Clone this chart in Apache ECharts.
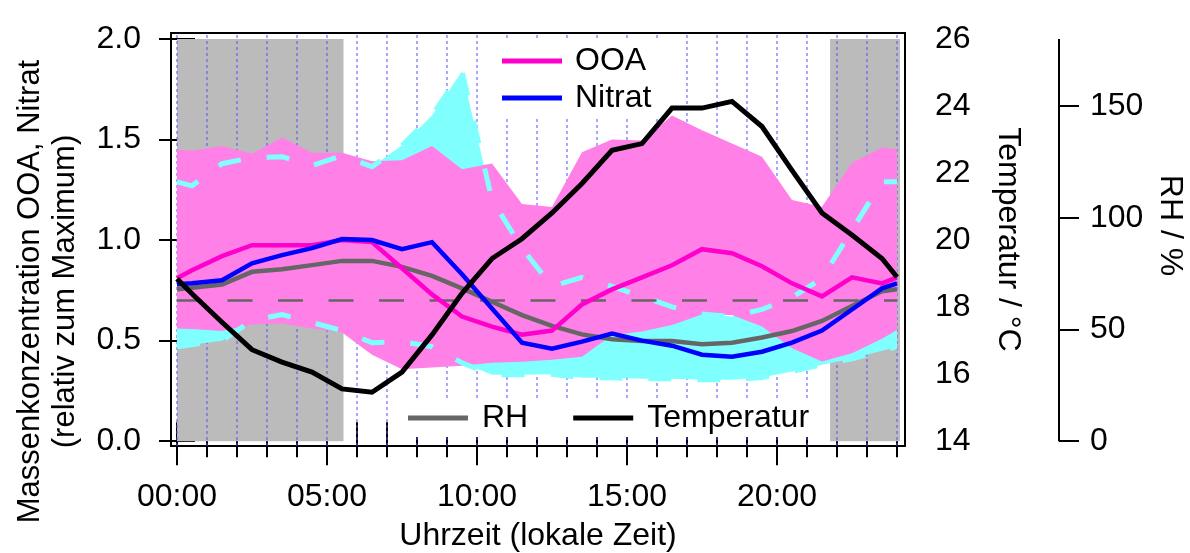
<!DOCTYPE html>
<html>
<head>
<meta charset="utf-8">
<script src="https://cdn.jsdelivr.net/npm/echarts@6/dist/echarts.min.js"></script>
<style>
  html, body { margin: 0; padding: 0; background: #fff; }
  #chart { width: 1190px; height: 553px; }
</style>
</head>
<body>
<div id="chart"></div>
<script>
// Tagesgang (Stundenmittel) von OOA, Nitrat, RH und Temperatur
const stunden = [0, 0.5, 1.5, 2.5, 3.5, 4.5, 5.5, 6.5, 7.5, 8.5, 9.5, 10.5, 11.5,
  12.5, 13.5, 14.5, 15.5, 16.5, 17.5, 18.5, 19.5, 20.5, 21.5, 22.5, 23.5, 24];

// relativ zum Maximum
const ooaMittel = [0.81, 0.85, 0.92, 0.975, 0.975, 0.975, 1.0, 0.99, 0.86, 0.73, 0.62, 0.57, 0.53,
  0.55, 0.68, 0.755, 0.815, 0.875, 0.955, 0.935, 0.87, 0.785, 0.72, 0.815, 0.785, 0.815];
const ooaOben = [1.45, 1.445, 1.468, 1.43, 1.51, 1.435, 1.435, 1.392, 1.397, 1.468, 1.353, 1.381, 1.18,
  1.165, 1.437, 1.5, 1.495, 1.62, 1.546, 1.48, 1.414, 1.199, 1.166, 1.384, 1.46, 1.45];
const ooaUnten = [0.56, 0.558, 0.548, 0.58, 0.585, 0.56, 0.54, 0.43, 0.358, 0.366, 0.375, 0.39, 0.395,
  0.405, 0.42, 0.528, 0.545, 0.578, 0.63, 0.628, 0.57, 0.462, 0.396, 0.437, 0.51, 0.553];

const nitratMittel = [0.78, 0.785, 0.80, 0.885, 0.925, 0.96, 1.005, 1.0, 0.955, 0.99, 0.83, 0.66, 0.49,
  0.46, 0.495, 0.535, 0.5, 0.475, 0.43, 0.42, 0.445, 0.49, 0.55, 0.655, 0.76, 0.785];
const nitratOben = [1.29, 1.27, 1.38, 1.41, 1.415, 1.37, 1.42, 1.365, 1.47, 1.62, 1.84, 1.2, 0.96,
  0.77, 0.815, 0.77, 0.72, 0.668, 0.632, 0.62, 0.655, 0.715, 0.81, 1.05, 1.29, 1.29];
const nitratUnten = [0.47, 0.48, 0.50, 0.6, 0.63, 0.59, 0.55, 0.49, 0.495, 0.47, 0.39, 0.33, 0.33,
  0.333, 0.315, 0.315, 0.31, 0.31, 0.305, 0.305, 0.317, 0.347, 0.38, 0.41, 0.45, 0.47];

// RH in %, Temperatur in °C
const rhMittel = [68.0, 68.7, 70.1, 75.8, 77.0, 78.8, 80.7, 80.7, 78.0, 74.0, 68.4, 62.4, 56.4,
  51.6, 47.8, 45.6, 44.8, 44.8, 43.4, 44.1, 46.4, 49.3, 53.8, 60.5, 67.1, 68.0];
const temperatur = [18.85, 18.4, 17.55, 16.73, 16.36, 16.06, 15.56, 15.46, 16.06, 17.17, 18.41, 19.45, 20.04,
  20.81, 21.69, 22.68, 22.88, 23.94, 23.94, 24.14, 23.39, 22.08, 20.81, 20.15, 19.45, 18.9];

// Dunkelphasen (Stunden) und Referenzlinie
const nachtBereiche = [[0, 5.55], [21.77, 24.1]];
const referenzWert = 0.7;
const referenzBereich = [0, 24];

// Achsenmarken
const stundenTicks = [0, 1, 2, 3, 4, 5, 6, 7, 8, 9, 10, 11, 12, 13, 14, 15, 16, 17, 18, 19, 20, 21, 22, 23, 24];
const stundenLabels = [0, 5, 10, 15, 20];
const konzTicks = [0, 0.5, 1.0, 1.5, 2.0];
const tempTicks = [14, 16, 18, 20, 22, 24, 26];
const rhTicksKlein = [0, 10, 20, 30, 40, 50, 60, 70, 80, 90, 100, 110, 120, 130, 140, 150, 160, 170, 180];
const rhTicksGross = [0, 50, 100, 150];

const FONT = 'Liberation Sans';
const FS = 32;
const BLACK = '#000';
const RASTER = '#5050ff';
const Y_MIN = -0.024, Y_MAX = 2.03;

const chart = echarts.init(document.getElementById('chart'), null, { renderer: 'canvas' });

function paare(werte) {
  return stunden.map((h, i) => [h, werte[i]]);
}

function band(name, oben, unten, farbe, z) {
  return {
    type: 'custom',
    name: name,
    z: z,
    silent: true,
    xAxisIndex: 0,
    yAxisIndex: 0,
    data: stunden.map((h, i) => [h, oben[i], unten[i]]),
    encode: { x: 0, y: [1, 2] },
    renderItem: function (params, api) {
      if (params.dataIndex !== 0) return null;
      const top = stunden.map((h, i) => api.coord([h, oben[i]]));
      const bottom = stunden.map((h, i) => api.coord([h, unten[i]])).reverse();
      return {
        type: 'polygon',
        shape: { points: top.concat(bottom) },
        style: { fill: farbe }
      };
    }
  };
}

function linie(name, werte, farbe, breite, yIdx, z, typ) {
  return {
    type: 'line',
    name: name,
    xAxisIndex: 0,
    yAxisIndex: yIdx,
    z: z,
    color: farbe,
    data: paare(werte),
    showSymbol: false,
    symbol: 'none',
    silent: true,
    lineStyle: { color: farbe, width: breite, type: typ || 'solid', cap: 'butt', join: 'miter' },
    itemStyle: { color: farbe }
  };
}

function xAchse(pos, ticks, laenge, labels, extra) {
  return Object.assign({
    type: 'value',
    position: pos,
    min: -0.2,
    max: 24.267,
    axisLine: { show: false },
    axisTick: {
      show: true, inside: false, length: laenge, customValues: ticks,
      lineStyle: { color: BLACK, width: 2 }
    },
    axisLabel: labels ? {
      show: true, customValues: labels, margin: 35,
      fontFamily: FONT, fontSize: FS, color: BLACK,
      formatter: v => String(v).padStart(2, '0') + ':00'
    } : { show: false },
    splitLine: { show: false }
  }, extra || {});
}

// Stundenlinien als unterbrochene Polylinie (je Stunde ein senkrechtes Stück)
const rasterDaten = [];
stundenTicks.forEach(h => {
  rasterDaten.push([h, Y_MIN], [h, Y_MAX], ['-', '-']);
});

const option = {
  animation: false,
  backgroundColor: '#fff',
  grid: {
    left: 171, right: 285, top: 33, bottom: 107,
    outerBoundsMode: 'none',
    containLabel: false,
    show: true, borderColor: BLACK, borderWidth: 2, backgroundColor: 'transparent'
  },
  legend: [
    {
      data: ['OOA', 'Nitrat'],
      orient: 'vertical',
      left: 495, top: 40,
      padding: [5, 8, 5, 7],
      itemGap: 5,
      itemWidth: 60, itemHeight: 5,
      icon: 'rect',
      backgroundColor: '#fff',
      selectedMode: false,
      textStyle: { fontFamily: FONT, fontSize: FS, color: BLACK, lineHeight: 31, padding: [0, 0, 0, 8] }
    },
    {
      data: ['RH', 'Temperatur'],
      orient: 'horizontal',
      left: 402, top: 399,
      padding: [3, 6, 3, 6],
      itemGap: 45,
      itemWidth: 60, itemHeight: 5,
      icon: 'rect',
      backgroundColor: '#fff',
      selectedMode: false,
      textStyle: { fontFamily: FONT, fontSize: FS, color: BLACK, lineHeight: 31, padding: [0, 0, 0, 9] }
    }
  ],
  xAxis: [
    xAchse('bottom', stundenLabels, 24, stundenLabels, {
      name: 'Uhrzeit (lokale Zeit)',
      nameLocation: 'middle',
      nameGap: 74,
      nameTextStyle: { fontFamily: FONT, fontSize: FS, color: BLACK }
    }),
    xAchse('bottom', stundenTicks, 16, null),
    xAchse('top', stundenTicks, 19, null)
  ],
  yAxis: [
    {
      type: 'value', position: 'left', min: Y_MIN, max: Y_MAX,
      axisLine: { show: false },
      axisTick: { show: true, length: 18, customValues: konzTicks, lineStyle: { color: BLACK, width: 2 } },
      axisLabel: {
        customValues: konzTicks, margin: 30, fontFamily: FONT, fontSize: FS, color: BLACK,
        formatter: v => v.toFixed(1)
      },
      splitLine: { show: false },
      name: 'Massenkonzentration OOA, Nitrat\n(relativ zum Maximum)',
      nameLocation: 'middle',
      nameRotate: 90,
      nameGap: 88,
      nameMoveOverlap: false,
      nameTextStyle: { fontFamily: FONT, fontSize: 31, color: BLACK, lineHeight: 35, align: 'center', padding: [0, 104, 0, 0] }
    },
    {
      type: 'value', position: 'right', min: 13.856, max: 26.18,
      axisLine: { show: false },
      axisTick: { show: true, length: 18, customValues: tempTicks, lineStyle: { color: BLACK, width: 2 } },
      axisLabel: { customValues: tempTicks, margin: 30, fontFamily: FONT, fontSize: FS, color: BLACK },
      splitLine: { show: false },
      name: 'Temperatur / °C',
      nameLocation: 'middle',
      nameRotate: -90,
      nameGap: 87,
      nameMoveOverlap: false,
      nameTextStyle: { fontFamily: FONT, fontSize: FS, color: BLACK }
    },
    {
      type: 'value', position: 'right', offset: 154, min: -2.16, max: 182.7,
      axisLine: { show: false },
      axisTick: { show: true, length: 10, customValues: rhTicksKlein, lineStyle: { color: BLACK, width: 2 } },
      axisLabel: { show: false },
      splitLine: { show: false }
    },
    {
      type: 'value', position: 'right', offset: 154, min: -2.16, max: 182.7,
      axisLine: { show: false },
      axisTick: { show: true, length: 20, customValues: rhTicksGross, lineStyle: { color: BLACK, width: 2 } },
      axisLabel: { customValues: rhTicksGross, margin: 31, fontFamily: FONT, fontSize: FS, color: BLACK },
      splitLine: { show: false },
      name: 'RH / %',
      nameLocation: 'middle',
      nameRotate: -90,
      nameGap: 95,
      nameMoveOverlap: false,
      nameTextStyle: { fontFamily: FONT, fontSize: FS, color: BLACK, padding: [0, 28, 0, 0] }
    }
  ],
  series: [
    {
      // Dunkelphasen als graue Flächen
      type: 'line', name: 'nacht', z: 1, data: [], silent: true, color: '#bbbbbb',
      markArea: {
        silent: true,
        itemStyle: { color: '#bbbbbb', opacity: 1 },
        data: nachtBereiche.map(b => [{ xAxis: b[0], yAxis: 0 }, { xAxis: b[1], yAxis: 2 }])
      }
    },
    {
      type: 'line', name: 'raster', z: 2, silent: true,
      xAxisIndex: 0, yAxisIndex: 0,
      data: rasterDaten,
      connectNulls: false,
      showSymbol: false, symbol: 'none',
      color: RASTER,
      lineStyle: { color: RASTER, width: 1, type: [3, 3], cap: 'butt' }
    },
    band('Nitrat-Bereich', nitratOben, nitratUnten, '#80ffff', 3),
    band('OOA-Bereich', ooaOben, ooaUnten, '#ff80e6', 4),
    linie('Nitrat oben', nitratOben, '#80ffff', 5, 0, 5, [23, 26]),
    linie('Nitrat unten', nitratUnten, '#80ffff', 5, 0, 5, [23, 26]),
    {
      type: 'line', name: 'referenz', z: 6, silent: true,
      xAxisIndex: 0, yAxisIndex: 0,
      data: referenzBereich.map(h => [h, referenzWert]),
      showSymbol: false, symbol: 'none',
      color: '#666666',
      lineStyle: { color: '#666666', width: 2.5, type: [25, 25.5], cap: 'butt' }
    },
    linie('RH', rhMittel, '#666666', 4.5, 3, 7),
    linie('OOA', ooaMittel, '#ff00cc', 4.5, 0, 8),
    linie('Nitrat', nitratMittel, '#0000ff', 4.5, 0, 9),
    linie('Temperatur', temperatur, '#000000', 5, 1, 10)
  ]
};

chart.setOption(option);

// RH-Achsenlinie nur über den Wertebereich 0–180 %
const rhX = 1190 - 285 + 154;
const rhY0 = chart.convertToPixel({ yAxisIndex: 3 }, 0);
const rhY1 = chart.convertToPixel({ yAxisIndex: 3 }, 180);
chart.setOption({
  graphic: [{
    type: 'line', silent: true, z: 20,
    shape: { x1: rhX, y1: rhY0, x2: rhX, y2: rhY1 },
    style: { stroke: BLACK, lineWidth: 2 }
  }]
});
</script>
</body>
</html>
